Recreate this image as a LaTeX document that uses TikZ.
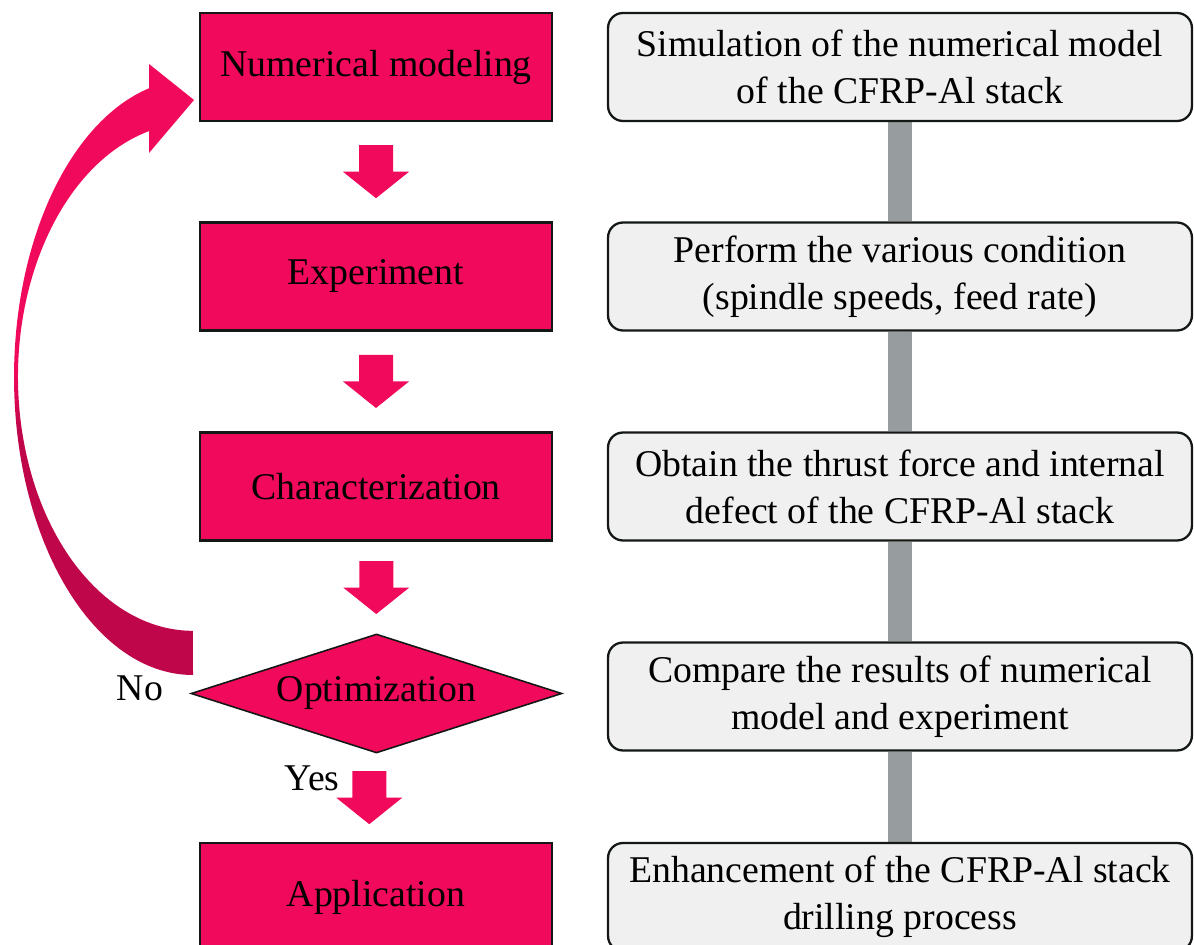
\documentclass[tikz,border=0pt]{standalone}
\usepackage{fontspec}
\setmainfont{Liberation Serif}
\usetikzlibrary{shapes.geometric,backgrounds,calc}
\definecolor{flowpink}{RGB}{241,10,91}
\definecolor{flowdark}{RGB}{192,6,74}
\definecolor{notegray}{RGB}{240,240,240}
\definecolor{linkgray}{RGB}{151,156,159}
\definecolor{edgeblack}{RGB}{20,24,20}
\pgfdeclareverticalshading{loopshade}{100bp}{color(0bp)=(flowdark); color(45bp)=(flowdark); color(50bp)=(flowpink); color(100bp)=(flowpink)}

\begin{document}
\begin{tikzpicture}[x=0.02cm, y=0.02cm, font=\fontsize{21.5}{26}\selectfont,
    stage/.style={draw=edgeblack, line width=1.6pt, fill=flowpink, minimum width=7.04cm, minimum height=2.16cm},
    decide/.style={diamond, draw=edgeblack, line width=0.9pt, fill=flowpink, aspect=3.12, inner sep=0pt, minimum width=7.42cm, minimum height=2.38cm},
    note/.style={draw=edgeblack, line width=1.3pt, fill=notegray, rounded corners=8.5pt, minimum width=11.68cm, minimum height=2.16cm, align=center, font=\fontsize{21.5}{26.8}\selectfont},
    link/.style={linkgray, line width=0.48cm},
    pics/godown/.style={code={\fill[flowpink] (-17,26.5) -- (17,26.5) -- (17,0) -- (33,0) -- (0,-26.5) -- (-33,0) -- (-17,0) -- cycle;}}]
  \useasboundingbox (0,0) rectangle (1194,-945);
  % left column: the steps
  \node[stage] (nm) at (376,-67) {Numerical modeling};
  \node[stage] (ex) at (376,-276.5) {Experiment};
  \node[stage] (ch) at (376,-486.5) {Characterization};
  \node[decide] (opt) at (376.5,-693.5) {Optimization};
  \node[stage] (ap) at (376,-897) {Application};
  \pic at ($(nm.south)!0.5!(ex.north)$) {godown};
  \pic at ($(ex.south)!0.5!(ch.north)$) {godown};
  \pic at ($(ch.south)!0.5!(opt.north)$) {godown};
  \pic at ($(opt.south)!0.5!(ap.north)+(-7,0)$) {godown};
  \node (no) at (140,-688) {No};
  \node (yes) at (312,-778) {Yes};
  % loop back from the decision
  \shade[shading=loopshade] (193,-675) arc[start angle=270, end angle=104.2, x radius=3.58cm, y radius=5.96cm]
    -- (149,-64) -- (194,-100) -- (149,-153) -- (149,-131.1)
    arc[start angle=104.56, end angle=270, x radius=3.5cm, y radius=5.08cm] -- cycle;
  % right column: what each step does
  \node[note] (s1) at (900,-67) {Simulation of the numerical model\\of the CFRP-Al stack};
  \node[note] (s2) at (900,-276.5) {Perform the various condition\\(spindle speeds, feed rate)};
  \node[note] (s3) at (900,-486.5) {Obtain the thrust force and internal\\defect of the CFRP-Al stack};
  \node[note] (s4) at (900,-696.5) {Compare the results of numerical\\model and experiment};
  \node[note] (s5) at (900,-897) {Enhancement of the CFRP-Al stack\\drilling process};
  \begin{scope}[on background layer]
    \foreach \a/\b in {s1/s2,s2/s3,s3/s4,s4/s5}
      \draw[link] (\a.south) -- (\b.north);
  \end{scope}
\end{tikzpicture}
\end{document}
